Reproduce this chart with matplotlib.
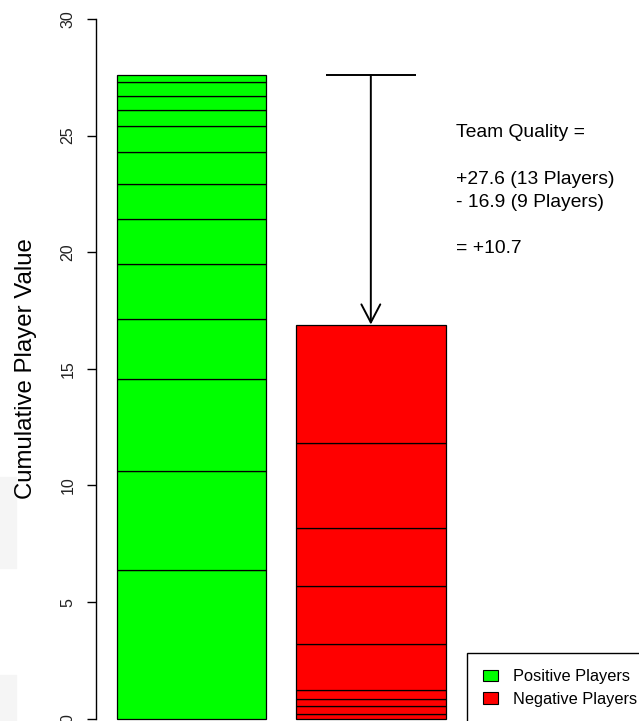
import matplotlib
matplotlib.use("Agg")
import matplotlib.pyplot as plt
from matplotlib.patches import Patch, Rectangle
import numpy as np

plt.rcParams['font.family'] = ['Liberation Sans', 'DejaVu Sans']

# player values, in stacking order (bottom -> top)
positive_vals = [6.39, 4.21, 3.98, 2.55, 2.36, 1.93, 1.49, 1.40, 1.09, 0.70, 0.61, 0.58, 0.30]
negative_vals = [0.20, 0.33, 0.30, 0.40, 1.97, 2.49, 2.48, 3.65, 5.08]
series_labels = ['Positive Players', 'Negative Players']
series_colors = ['#00ff00', '#ff0000']
y_ticks = [0, 5, 10, 15, 20, 25, 30]

pos_total = sum(positive_vals)
neg_total = sum(negative_vals)

# figure, axes spanning from the y axis line to the right edge
W, H = 639, 721
fig = plt.figure(figsize=(W / 100, H / 100), dpi=100)
ax = fig.add_axes([96 / W, 0, 1 - 96 / W, 1])
ax.set_xlim(0.0615, 3.694)
ax.set_ylim(-0.099, 30.815)

# stacked bars, R barplot style (width 1, space 0.2)
centers = [0.7, 1.9]
for xc, vals, col in zip(centers, [positive_vals, negative_vals], series_colors):
    bottoms = np.concatenate([[0], np.cumsum(vals)[:-1]])
    ax.bar(xc, vals, bottom=bottoms, width=1.0, color=col,
           edgecolor='black', linewidth=0.9)

# arrow from positive total down to negative total
ax.plot([centers[1] - 0.3, centers[1] + 0.3], [pos_total, pos_total],
        color='black', lw=1.4, solid_capstyle='butt')
ax.annotate('', xy=(centers[1], neg_total), xytext=(centers[1], pos_total),
            arrowprops=dict(arrowstyle='->,head_length=1.3,head_width=0.68',
                            lw=1.4, color='black', shrinkA=0, shrinkB=0,
                            mutation_scale=10))

# summary text
lines = ['Team Quality =', '',
         '+%.1f (%d Players)' % (pos_total, len(positive_vals)),
         '- %.1f (%d Players)' % (neg_total, len(negative_vals)), '',
         '= +%.1f' % (pos_total - neg_total)]
for i, s in enumerate(lines):
    ax.text(2.47, 25.14 - i * 1.0, s, ha='left', va='center', fontsize=13.9)

# axes styling
for side in ['top', 'right', 'bottom']:
    ax.spines[side].set_visible(False)
ax.spines['left'].set_bounds(0, 30)
ax.spines['left'].set_linewidth(1.0)
ax.set_xticks([])
ax.set_yticks(y_ticks)
ax.set_yticklabels([str(t) for t in y_ticks], rotation=90, va='center')
ax.tick_params(axis='y', length=6.7, width=1.0, pad=8, labelsize=11.5,
               labelcolor='#222222')

fig.text(26 / W, 1 - 368.5 / H, 'Cumulative Player Value', rotation=90,
         ha='center', va='center', fontsize=17.3)

# legend (cropped at the image edge)
handles = [Patch(facecolor=c, edgecolor='black', linewidth=0.8) for c in series_colors]
leg = ax.legend(handles, series_labels, loc='upper left',
                bbox_to_anchor=(2.541, 2.816), bbox_transform=ax.transData,
                borderaxespad=0, fontsize=11.8, handlelength=0.9,
                handleheight=0.71, handletextpad=0.9, borderpad=1.0,
                labelspacing=0.44, fancybox=False, framealpha=1)
leg.get_frame().set_edgecolor('black')
leg.get_frame().set_linewidth(1.0)

# faint grey page artefacts at the far left
for y0, y1 in [(477, 568), (675, 721)]:
    fig.add_artist(Rectangle((0, 1 - y1 / H), 16 / W, (y1 - y0) / H,
                             transform=fig.transFigure, color='#f5f5f5',
                             zorder=-1))

fig.savefig('out.png', dpi=100)
